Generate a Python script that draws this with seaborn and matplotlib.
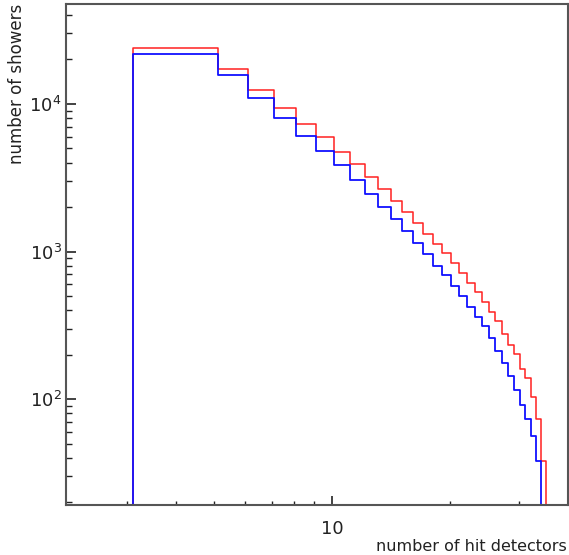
import numpy as np
import pandas as pd
import matplotlib
matplotlib.use("Agg")
import matplotlib.pyplot as plt
import matplotlib.ticker as mticker
import seaborn as sns

# bin edges (number of hit detectors) and counts per bin
edges = [3.1, 5.1, 6.1, 7.1, 8.1, 9.1, 10.1, 11.1, 12.1, 13.1, 14.1, 15.1,
         16.1, 17.1, 18.1, 19.1, 20.1, 21.1, 22.1, 23.1, 24.1, 25.1, 26.1,
         27.1, 28.1, 29.1, 30.1, 31.1, 32.1, 33.1, 34.1, 35.1]
red_counts = [23800, 17260, 12440, 9395, 7355, 5950, 4755, 3906, 3190, 2645,
              2215, 1857, 1557, 1318, 1122, 984, 842, 721, 617, 528,
              456, 387, 336, 277, 234, 202, 160, 140, 104, 73, 38]
blue_counts = [21900, 15710, 11030, 8076, 6101, 4808, 3865, 3058, 2470, 2007,
               1658, 1388, 1151, 965, 804, 689, 586, 501, 418, 359,
               312, 259, 212, 175, 144, 116, 91, 73, 56, 38, 0]

x_lim = (2.09, 40)
y_lim = (19.2, 47500)

sns.set_style("ticks")
plt.rcParams["font.family"] = ["DejaVu Sans"]

mids = [(a + b) / 2 for a, b in zip(edges[:-1], edges[1:])]
df = pd.DataFrame({"hits": mids, "red": red_counts, "blue": blue_counts})
bins = [x_lim[0]] + edges + [x_lim[1]]

fig = plt.figure(figsize=(5.69, 5.55), dpi=100)
ax = fig.add_axes([66 / 569, 1 - 505 / 555, 502 / 569, 501 / 555])

sns.histplot(data=df, x="hits", weights="red", bins=bins, element="step",
             fill=False, color="#ff2020", linewidth=1.1, ax=ax)
sns.histplot(data=df, x="hits", weights="blue", bins=bins, element="step",
             fill=False, color="#1010ff", linewidth=1.3, ax=ax)

ax.set_xscale("log")
ax.set_yscale("log")
ax.set_xlim(*x_lim)
ax.set_ylim(*y_lim)
ax.set_xlabel("")
ax.set_ylabel("")

ax.yaxis.set_major_locator(mticker.LogLocator(base=10))
ax.yaxis.set_minor_locator(mticker.LogLocator(base=10, subs=np.arange(2, 10)))
ax.yaxis.set_major_formatter(mticker.FuncFormatter(
    lambda v, p: r"$\mathregular{10^{%d}}$" % round(np.log10(v))))
ax.yaxis.set_minor_formatter(mticker.NullFormatter())
ax.xaxis.set_major_locator(mticker.LogLocator(base=10))
ax.xaxis.set_minor_locator(mticker.LogLocator(base=10, subs=np.arange(2, 10)))
ax.xaxis.set_major_formatter(mticker.FuncFormatter(lambda v, p: f"{v:g}"))
ax.xaxis.set_minor_formatter(mticker.NullFormatter())

ax.tick_params(axis="both", which="both", direction="in", top=False,
               right=False, colors="#222222", labelcolor="#222222")
ax.tick_params(axis="y", which="major", length=7.5, width=1.2, pad=3, labelsize=13)
ax.tick_params(axis="y", which="minor", length=4.5, width=1.0)
ax.tick_params(axis="x", which="major", length=6.5, width=1.2, pad=11, labelsize=13)
ax.tick_params(axis="x", which="minor", length=3, width=1.0)

for side in ["left", "bottom", "top", "right"]:
    ax.spines[side].set_visible(True)
    ax.spines[side].set_color("#555555")
    ax.spines[side].set_linewidth(1.5)

fig.text(17 / 569, 1 - 4 / 555, "number of showers", rotation=90,
         ha="center", va="top", fontsize=12, color="#222222")
fig.text(567 / 569, 1 - 551 / 555, "number of hit detectors",
         ha="right", va="baseline", fontsize=11.5, color="#222222")

fig.savefig("out.png", dpi=100)
